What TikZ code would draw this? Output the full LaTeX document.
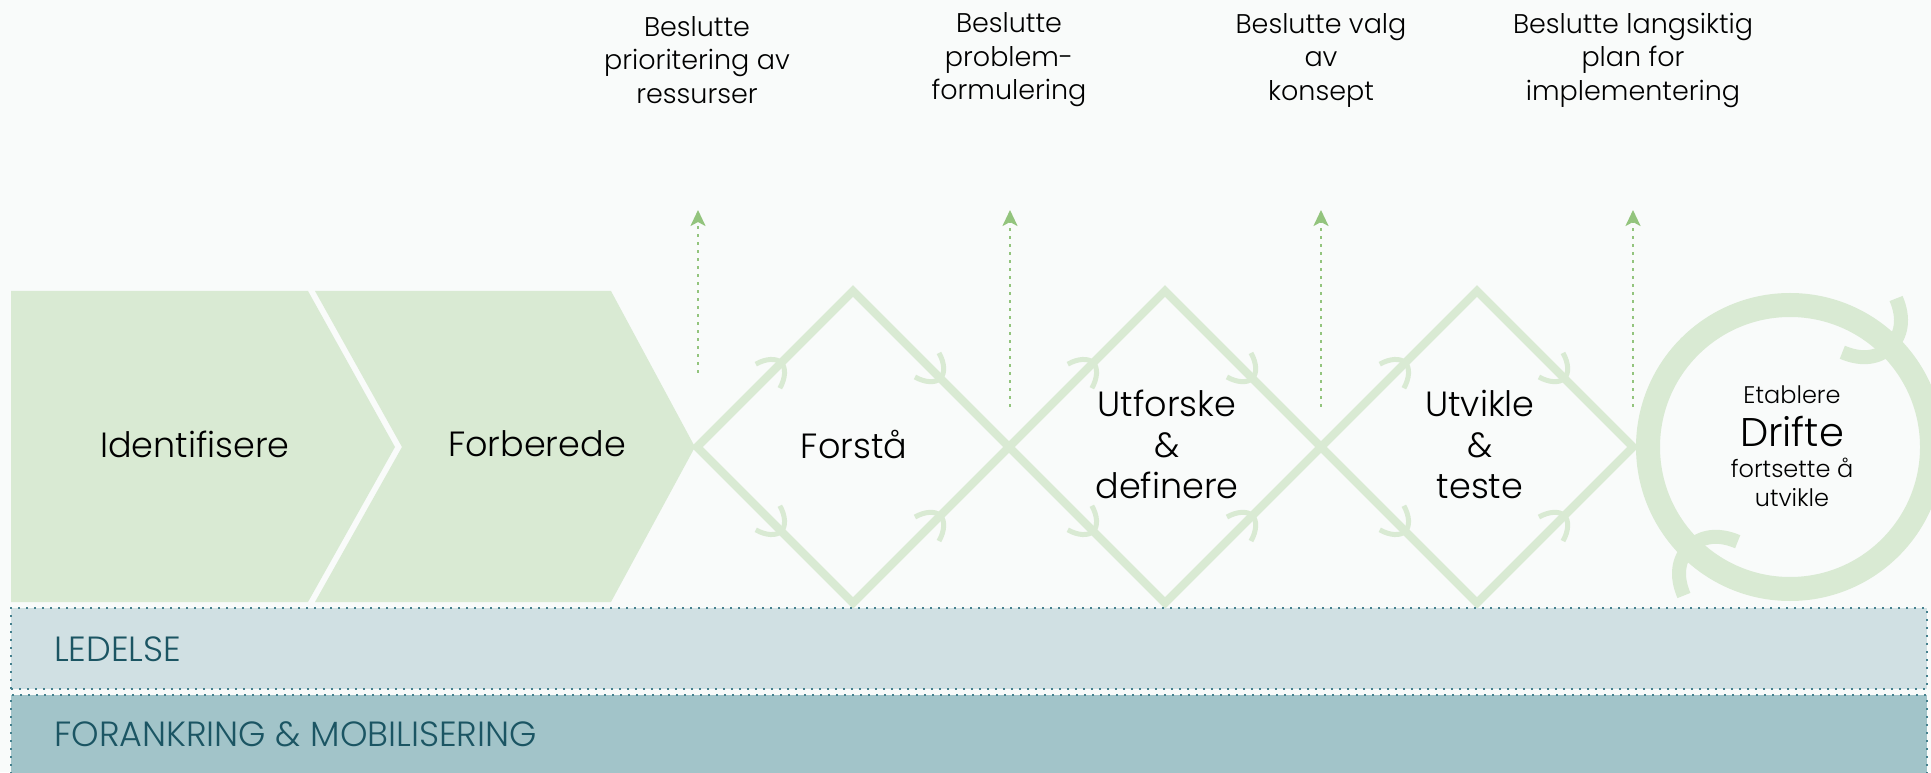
\documentclass[tikz,border=0pt]{standalone}
\usepackage{fontspec}
\setmainfont{Poppins}[UprightFont=* Light]
\usetikzlibrary{arrows.meta,decorations.markings}
\definecolor{bg}{HTML}{F9FBFA}
\definecolor{gfill}{HTML}{D9EAD3}
\definecolor{agreen}{HTML}{93C47D}
\definecolor{bandA}{HTML}{D0E0E3}
\definecolor{bandB}{HTML}{A2C4C9}
\definecolor{bdot}{HTML}{45818E}
\definecolor{btext}{HTML}{1B5563}
\newcommand\dbarb{\draw[gfill,line width=5pt] (-19pt,17pt) .. controls (-8pt,14pt) and (0pt,7pt) .. (0pt,0pt) .. controls (0pt,-7pt) and (-8pt,-14pt) .. (-19pt,-17pt);}
\newcommand\rbarb{\draw[gfill,line width=14pt] (-30pt,38pt) .. controls (-10pt,30pt) and (0pt,16pt) .. (0pt,0pt) .. controls (0pt,-16pt) and (-10pt,-30pt) .. (-30pt,-38pt);}
\tikzset{
  chev/.style={fill=gfill},
  dline/.style={draw=gfill,line width=8pt,line join=miter},
  barbs/.style={dline,postaction={decorate},decoration={markings,
      mark=at position 0.27 with {\dbarb},
      mark=at position 0.78 with {\dbarb}}},
  darrow/.style={draw=agreen,line width=2.5pt,dash pattern=on 2.5pt off 5.5pt,
      -{Stealth[length=16pt,width=15pt,inset=4pt]}},
  toplabel/.style={align=center,font=\fontsize{27}{33.5}\selectfont,text=black,inner sep=0pt},
  mainlabel/.style={align=center,font=\fontsize{35}{41}\selectfont,text=black,inner sep=0pt},
  bandbox/.style={draw=bdot,line width=2pt,dash pattern=on 2pt off 6pt},
  bandlabel/.style={anchor=west,font=\fontsize{35}{38}\selectfont,text=btext,inner sep=0pt},
}
\begin{document}
\begin{tikzpicture}[x=1pt,y=1pt]
\useasboundingbox (0,0) rectangle (1931,772);
\clip (0,0) rectangle (1931,772);
\fill[bg] (0,0) rectangle (1931,772);

% chevrons
\fill[chev] (11,481) -- (308,481) -- (395,325) -- (308,170) -- (11,170) -- cycle;
\fill[chev] (315,481) -- (611,481) -- (695,325) -- (611,170) -- (315,170) -- (402,325) -- cycle;
\node[mainlabel] (ident) at (195,328) {Identifisere};
\node[mainlabel] (forb) at (537,328) {Forberede};

% diamond vertices
\coordinate (v0) at (697,325);
\coordinate (v1) at (1009,325);
\coordinate (v2) at (1321,325);
\coordinate (v3) at (1633,325);
\coordinate (t1) at (853,481);  \coordinate (b1) at (853,169);
\coordinate (t2) at (1165,481); \coordinate (b2) at (1165,169);
\coordinate (t3) at (1477,481); \coordinate (b3) at (1477,169);

\draw[dline] (v0) -- (t1) -- (v1) -- (b1) -- cycle;
\draw[dline] (v1) -- (t2) -- (v2) -- (b2) -- cycle;
\draw[dline] (v2) -- (t3) -- (v3) -- (b3) -- cycle;
\draw[barbs] (v0) -- (t1) -- (v1);
\draw[barbs] (v0) -- (b1) -- (v1);
\draw[barbs] (v1) -- (t2) -- (v2);
\draw[barbs] (v1) -- (b2) -- (v2);
\draw[barbs] (v2) -- (t3) -- (v3);
\draw[barbs] (v2) -- (b3) -- (v3);

\node[mainlabel] (forsta) at (854,328) {Forstå};
\node[mainlabel] (utforske) at (1167,328) {Utforske\\\&\\definere};
\node[mainlabel] (utvikle) at (1480,328) {Utvikle\\\&\\teste};

% ring
\coordinate (rc) at (1790,325);
\draw[gfill,line width=24pt,postaction={decorate},decoration={markings,
    mark=at position 0.125 with {\rbarb},
    mark=at position 0.625 with {\rbarb}}]
  (1790,467) arc[start angle=90,end angle=-270,radius=142];
\node[inner sep=0pt,font=\fontsize{24}{28}\selectfont] (etab) at (1792,377) {Etablere};
\node[inner sep=0pt,font=\fontsize{40}{44}\selectfont] (drifte) at (1792,340) {Drifte};
\node[inner sep=0pt,font=\fontsize{24}{28}\selectfont] (forts) at (1792,304) {fortsette å};
\node[inner sep=0pt,font=\fontsize{24}{28}\selectfont] (utv) at (1792,274) {utvikle};

% decision arrows and labels
\coordinate (d1s) at (698,399);  \coordinate (d1e) at (698,562);
\coordinate (d2s) at (1010,365); \coordinate (d2e) at (1010,562);
\coordinate (d3s) at (1321,365); \coordinate (d3e) at (1321,562);
\coordinate (d4s) at (1633,365); \coordinate (d4e) at (1633,562);
\draw[darrow] (d1s) -- (d1e);
\draw[darrow] (d2s) -- (d2e);
\draw[darrow] (d3s) -- (d3e);
\draw[darrow] (d4s) -- (d4e);
\node[toplabel] (dl1) at (697,712) {Beslutte\\prioritering av\\ressurser};
\node[toplabel] (dl2) at (1009,712) {Beslutte\\problem-\\formulering};
\node[toplabel] (dl3) at (1321,712) {Beslutte valg\\av\\konsept};
\node[toplabel] (dl4) at (1633,712) {Beslutte langsiktig\\plan for\\implementering};

% bands
\fill[bandA] (11,83) rectangle (1927,164);
\draw[bandbox] (11,83) rectangle (1927,164);
\fill[bandB] (11,-10) rectangle (1927,77);
\draw[bandbox] (11,-10) rectangle (1927,77);
\node[bandlabel] (led) at (54,123) {LEDELSE};
\node[bandlabel] (fora) at (54,38) {FORANKRING \& MOBILISERING};
\end{tikzpicture}
\end{document}
